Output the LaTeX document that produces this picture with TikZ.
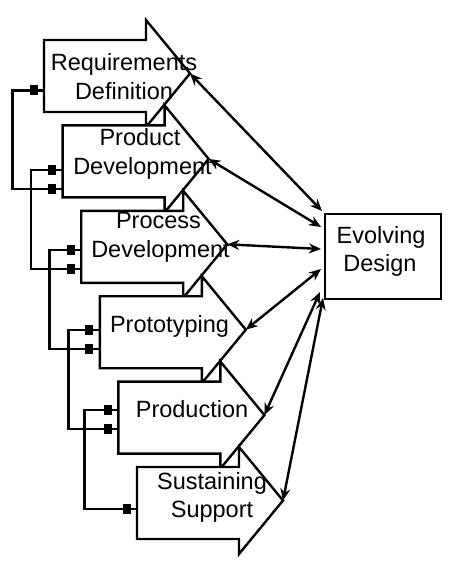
\documentclass[tikz,border=0pt]{standalone}
\usepackage{fontspec}
\setmainfont{Liberation Sans}
\usetikzlibrary{arrows.meta}
\newcommand\blockarr[3]{%
  \draw[blockarrow] (#2,#3) -- (#2+102,#3) -- (#2+102,#3-20) -- (#2+146,#3+33.5)
    -- (#2+102,#3+87) -- (#2+102,#3+72) -- (#2,#3+72) -- cycle;
  \coordinate (#1tip) at (#2+146,#3+33.5);
}
\begin{document}
\begin{tikzpicture}[x=1pt,y=-1pt,
  blockarrow/.style={draw=black,fill=white,line width=2.4pt,line join=miter},
  lbl/.style={inner sep=0pt,anchor=base,font=\fontsize{23.5}{28.5}\selectfont},
  conn/.style={line width=2.4pt,{Stealth[length=12pt,width=10pt]}-{Stealth[length=12pt,width=10pt]}},
  fb/.style={line width=2.4pt},
  sqmark/.style={fill=black,draw=none,minimum width=8pt,minimum height=10pt,inner sep=0pt},
  boxstyle/.style={draw=black,fill=white,line width=2.4pt,inner sep=0pt,anchor=north west,minimum width=116pt,minimum height=85pt}
]
\useasboundingbox (0,0) rectangle (450,561);
% block arrows
\blockarr{a1}{44}{40}
\blockarr{a2}{62.6}{125.4}
\blockarr{a3}{81.2}{210.8}
\blockarr{a4}{99.8}{296.2}
\blockarr{a5}{118.4}{381.6}
\blockarr{a6}{137}{467}
% labels
\node[lbl] (t1a) at (124,71) {Requirements};
\node[lbl] (t1b) at (124,100) {Definition};
\node[lbl] (t2a) at (140,146) {Product};
\node[lbl] (t2b) at (142.5,175) {Development};
\node[lbl] (t3a) at (158.5,228) {Process};
\node[lbl] (t3b) at (160.5,257) {Development};
\node[lbl] (t4a) at (169.5,332) {Prototyping};
\node[lbl] (t5a) at (192,417) {Production};
\node[lbl] (t6a) at (212,489) {Sustaining};
\node[lbl] (t6b) at (212,517) {Support};
% evolving design box
\node[boxstyle] (ed) at (324,213) {};
\node[lbl] (eda) at (381,243) {Evolving};
\node[lbl] (edb) at (380,271) {Design};
% ports
\coordinate (a1u) at (44,90.5);
\coordinate (a2u) at (62.6,170);
\coordinate (a2d) at (62.6,189);
\coordinate (a3u) at (81.2,250);
\coordinate (a3d) at (81.2,269);
\coordinate (a4u) at (99.8,330);
\coordinate (a4d) at (99.8,349);
\coordinate (a5u) at (118.4,410);
\coordinate (a5d) at (118.4,429);
\coordinate (a6d) at (137,509);
% feedback connectors
\draw[fb] (a1u) -- ++(-31.5,0) |- (a2d);
\draw[fb] (a2u) -- ++(-31.9,0) |- (a3d);
\draw[fb] (a3u) -- ++(-31.9,0) |- (a4d);
\draw[fb] (a4u) -- ++(-31.5,0) |- (a5d);
\draw[fb] (a5u) -- ++(-34,0) |- (a6d);
\foreach \p in {a1u,a2u,a2d,a3u,a3d,a4u,a4d,a5u,a5d,a6d}
  \node[sqmark] at ([xshift=-10.5pt]\p) {};
% box end points
\coordinate (e1) at (322,211);
\coordinate (e2) at (321,227);
\coordinate (e3) at (321,249);
\coordinate (e4) at (321,269);
\coordinate (e5) at (320,292);
\coordinate (e6) at (323,298);
\draw[conn] (a1tip) -- (e1);
\draw[conn] (a2tip) -- (e2);
\draw[conn] (a3tip) -- (e3);
\draw[conn] (a4tip) -- (e4);
\draw[conn] (a5tip) -- (e5);
\draw[conn] (a6tip) -- (e6);
\end{tikzpicture}
\end{document}
